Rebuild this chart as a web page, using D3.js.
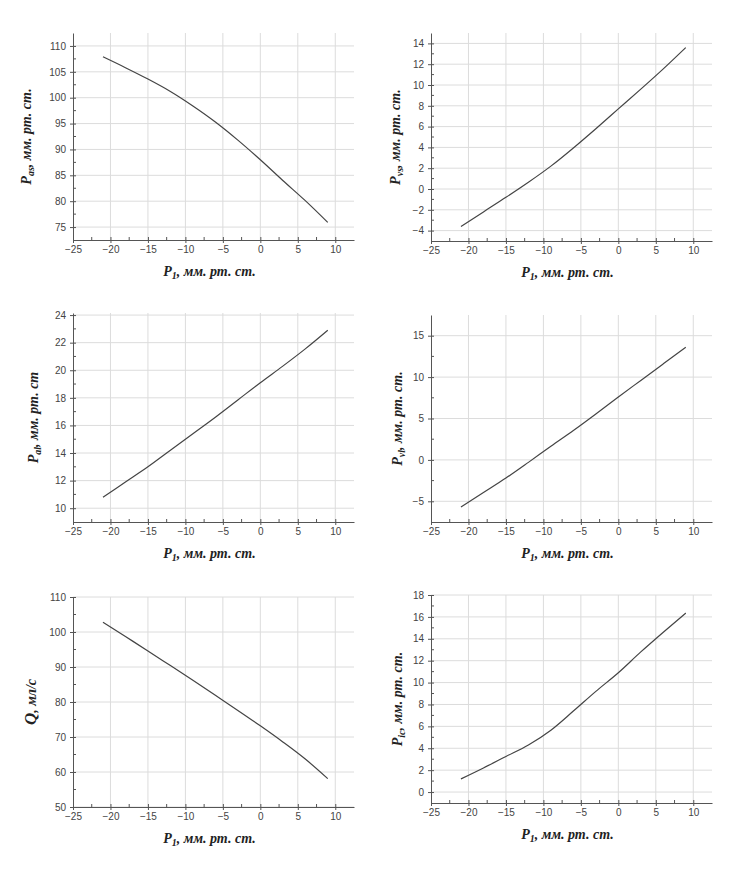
<!DOCTYPE html>
<html>
<head>
<meta charset="utf-8">
<script src="https://cdn.jsdelivr.net/npm/d3@7"></script>
<style>
  body { margin: 0; background: #fff; }
  .tick text { font-family: "Liberation Sans", Arial, sans-serif; font-size: 10px; fill: #444; }
  .axisLabel { font-family: "Liberation Serif", "Times New Roman", serif; font-weight: bold; font-style: italic; font-size: 14px; fill: #222; }
</style>
</head>
<body>
<div id="chart"></div>
<script>
// shared x values (P1, mm Hg)
var xValues = [-21, -18, -15, -12, -9, -6, -3, 0, 3, 6, 9];
var xTicks = [-25, -20, -15, -10, -5, 0, 5, 10];

// series
var pasValues = [107.9, 105.8, 103.6, 101.2, 98.4, 95.3, 91.8, 88.0, 84.0, 80.1, 75.9];
var pvsValues = [-3.6, -2.2, -0.8, 0.65, 2.2, 3.95, 5.8, 7.7, 9.6, 11.55, 13.6];
var palValues = [10.8, 11.9, 13.0, 14.2, 15.4, 16.6, 17.85, 19.1, 20.3, 21.55, 22.9];
var pvlValues = [-5.7, -3.95, -2.2, -0.3, 1.65, 3.55, 5.55, 7.6, 9.6, 11.6, 13.6];
var qValues = [102.8, 98.7, 94.6, 90.4, 86.2, 81.9, 77.6, 73.2, 68.6, 63.7, 58.1];
var picValues = [1.2, 2.2, 3.25, 4.3, 5.65, 7.4, 9.2, 10.9, 12.8, 14.6, 16.35];

// y tick labels
var pasTicks = [75, 80, 85, 90, 95, 100, 105, 110];
var pvsTicks = [-4, -2, 0, 2, 4, 6, 8, 10, 12, 14];
var palTicks = [10, 12, 14, 16, 18, 20, 22, 24];
var pvlTicks = [-5, 0, 5, 10, 15];
var qTicks = [50, 60, 70, 80, 90, 100, 110];
var picTicks = [0, 2, 4, 6, 8, 10, 12, 14, 16, 18];

var svgWidth = 752;
var svgHeight = 873;

var svg = d3.select("#chart")
  .append("svg")
  .attr("width", svgWidth)
  .attr("height", svgHeight);

var panels = [
  { values: pasValues, ticks: pasTicks, domain: [72.5, 112.5], step: 5,
    left: 73, top: 33, bottom: 240, sub: "as", unit: ", мм. рт. ст.", labelX: 31 },
  { values: pvsValues, ticks: pvsTicks, domain: [-5, 15], step: 2,
    left: 431, top: 33, bottom: 241, sub: "vs", unit: ", мм. рт. ст.", labelX: 400 },
  { values: palValues, ticks: palTicks, domain: [9, 24.15], step: 2,
    left: 73, top: 313, bottom: 522, sub: "al", unit: ", мм. рт. ст", labelX: 38 },
  { values: pvlValues, ticks: pvlTicks, domain: [-7.5, 17.5], step: 5,
    left: 431, top: 315, bottom: 522, sub: "vl", unit: ", мм. рт. ст.", labelX: 402 },
  { values: qValues, ticks: qTicks, domain: [50, 110], step: 10,
    left: 73, top: 597, bottom: 807, main: "Q", unit: ", мл/с", labelX: 36 },
  { values: picValues, ticks: picTicks, domain: [-1, 18], step: 2,
    left: 431, top: 595, bottom: 803, sub: "ic", unit: ", мм. рт. ст.", labelX: 402 }
];

var plotWidth = 281;

panels.forEach(function(p) {
  var g = svg.append("g")
    .attr("transform", `translate(${p.left}, ${p.top})`);
  var h = p.bottom - p.top;

  var xScale = d3.scaleLinear().domain([-25, 12.5]).range([0, plotWidth]);
  var yScale = d3.scaleLinear().domain(p.domain).range([h, 0]);

  // grid
  g.append("g").selectAll("line")
    .data(xTicks.slice(1))
    .enter().append("line")
    .attr("x1", d => xScale(d)).attr("x2", d => xScale(d))
    .attr("y1", 0).attr("y2", h)
    .attr("stroke", "#dcdcdc").attr("stroke-width", 1);
  g.append("g").selectAll("line")
    .data(p.ticks)
    .enter().append("line")
    .attr("x1", 0).attr("x2", plotWidth)
    .attr("y1", d => yScale(d)).attr("y2", d => yScale(d))
    .attr("stroke", "#dcdcdc").attr("stroke-width", 1);

  // minor ticks (inside)
  var xMinor = xTicks.map(d => d + 2.5).filter(d => d < 12.5);
  g.append("g").selectAll("line")
    .data(xMinor)
    .enter().append("line")
    .attr("x1", d => xScale(d)).attr("x2", d => xScale(d))
    .attr("y1", h).attr("y2", h - 3)
    .attr("stroke", "#555");
  var yMinor = p.ticks.map(d => d - p.step / 2).concat([p.ticks[p.ticks.length - 1] + p.step / 2])
    .filter(d => d > p.domain[0] && d < p.domain[1]);
  g.append("g").selectAll("line")
    .data(yMinor)
    .enter().append("line")
    .attr("x1", 0).attr("x2", 3)
    .attr("y1", d => yScale(d)).attr("y2", d => yScale(d))
    .attr("stroke", "#555");

  // axes
  var bottomAxis = d3.axisBottom(xScale).tickValues(xTicks).tickSizeInner(3).tickSizeOuter(0).tickPadding(3);
  var leftAxis = d3.axisLeft(yScale).tickValues(p.ticks).tickSizeInner(3).tickSizeOuter(0).tickPadding(4);

  var xa = g.append("g")
    .attr("transform", `translate(0, ${h})`)
    .call(bottomAxis);
  var ya = g.append("g").call(leftAxis);
  [xa, ya].forEach(function(a) {
    a.select(".domain").attr("stroke", "#555");
    a.selectAll(".tick line").attr("stroke", "#555");
    a.selectAll(".tick text").attr("fill", "#444");
  });
  // inner half of major ticks
  xa.selectAll(".tick").append("line").attr("y1", 0).attr("y2", -3).attr("stroke", "#555");
  ya.selectAll(".tick").append("line").attr("x1", 0).attr("x2", 3).attr("stroke", "#555");

  // curve
  var line = d3.line()
    .x((d, i) => xScale(xValues[i]))
    .y(d => yScale(d))
    .curve(d3.curveMonotoneX);
  g.append("path")
    .datum(p.values)
    .attr("d", line)
    .attr("fill", "none")
    .attr("stroke", "#444")
    .attr("stroke-width", 1.2);

  // x label
  var xl = svg.append("text")
    .attr("class", "axisLabel")
    .attr("x", p.left + plotWidth / 2 - 4)
    .attr("y", p.bottom + 36)
    .attr("text-anchor", "middle");
  xl.append("tspan").text("P");
  xl.append("tspan").attr("font-size", "10px").attr("dy", 3).text("1");
  xl.append("tspan").attr("dy", -3).text(", мм. рт. ст.");

  // y label
  var yl = svg.append("text")
    .attr("class", "axisLabel")
    .attr("transform", `translate(${p.labelX}, ${p.top + h / 2}) rotate(-90)`)
    .attr("text-anchor", "middle");
  if (p.main) {
    yl.append("tspan").attr("font-size", "17px").text(p.main);
    yl.append("tspan").text(p.unit);
  } else {
    yl.append("tspan").text("P");
    yl.append("tspan").attr("font-size", "10px").attr("dy", 3).text(p.sub);
    yl.append("tspan").attr("dy", -3).text(p.unit);
  }
});
</script>
</body>
</html>
